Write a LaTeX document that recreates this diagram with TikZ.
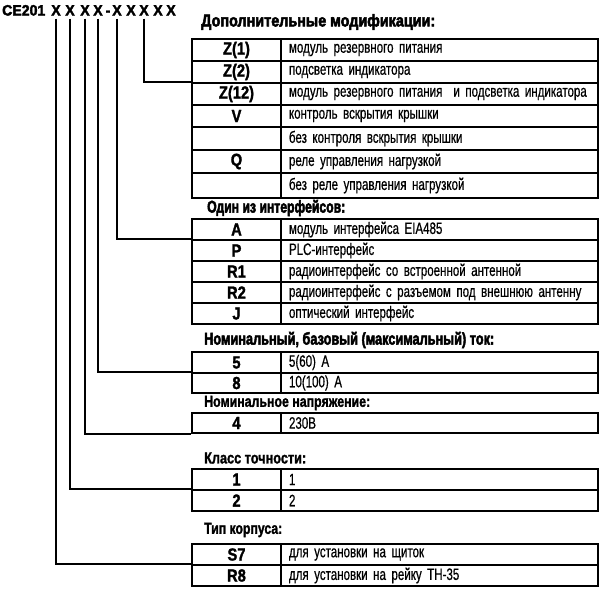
\documentclass[tikz,border=0pt]{standalone}
\usepackage{graphicx}
\usepackage{fontspec}
\setmainfont{Liberation Sans}
\newfontfamily\descfont{Liberation Sans}[FakeStretch=0.70,FakeBold=0.6]
\newfontfamily\codefont{Liberation Sans}[FakeStretch=0.84,FakeBold=1.5]
\newfontfamily\headfont{Liberation Sans}[FakeStretch=0.85,FakeBold=3]
\newfontfamily\subhfont{Liberation Sans}[FakeStretch=0.85,FakeBold=1.5]
\newfontfamily\titlefont{Liberation Sans}[FakeStretch=0.94,FakeBold=2.5]
\newcommand{\hdr}[2]{\resizebox{#1}{\height}{#2}}
\tikzset{
  lw/.style={line width=2pt},
  codecell/.style={draw, lw, rectangle, minimum width=89pt, minimum height=#1,
    inner sep=0pt, anchor=north west, font=\codefont\bfseries\fontsize{17.5}{17.5}\selectfont},
  desccell/.style={draw, lw, rectangle, minimum width=317pt, minimum height=#1,
    inner xsep=8pt, inner ysep=0pt, text width=301pt, align=left, anchor=north west,
    font=\descfont\fontsize{16.5}{16.5}\selectfont},
  headtxt/.style={anchor=west, inner sep=0pt, font=\headfont\bfseries\fontsize{17}{17}\selectfont},
  subhtxt/.style={anchor=west, inner sep=0pt, font=\subhfont\bfseries\fontsize{16}{16}\selectfont},
  xmark/.style={inner sep=0pt, anchor=base, font=\titlefont\bfseries\fontsize{15}{15}\selectfont},
  conn/.style={draw, lw}
}
\begin{document}
\begin{tikzpicture}[x=1pt,y=-1pt]
\useasboundingbox (0,0) rectangle (605,590);
% title
\node[xmark, anchor=base west] (ce) at (2,15.5) {CE201};
\node[xmark] (x1) at (56,15.5) {X};
\node[xmark] (x2) at (70,15.5) {X};
\node[xmark] (x3) at (85,15.5) {X};
\node[xmark] (x4) at (98,15.5) {X};
\node[xmark] (dash) at (108,15.5) {-};
\node[xmark] (x5) at (117,15.5) {X};
\node[xmark] (x6) at (131,15.5) {X};
\node[xmark] (x7) at (144,15.5) {X};
\node[xmark] (x8) at (158,15.5) {X};
\node[xmark] (x9) at (171,15.5) {X};

% table 1
\node[headtxt] (h1) at (201,22) {\hdr{234pt}{Дополнительные модификации:}};
\node[codecell=22pt] (t1c1) at (191,38) {Z(1)};
\node[desccell=22pt] (t1d1) at (280,38) {модуль резервного питания};
\node[codecell=22pt] (t1c2) at (191,60) {Z(2)};
\node[desccell=22pt] (t1d2) at (280,60) {подсветка индикатора};
\node[codecell=22pt] (t1c3) at (191,82) {Z(12)};
\node[desccell=22pt] (t1d3) at (280,82) {\mbox{модуль резервного питания\ \ и подсветка индикатора}};
\node[codecell=22pt] (t1c4) at (191,104) {V};
\node[desccell=22pt] (t1d4) at (280,104) {контроль вскрытия крышки};
\node[codecell=23pt] (t1c5) at (191,126) {};
\node[desccell=23pt] (t1d5) at (280,126) {без контроля вскрытия крышки};
\node[codecell=23pt] (t1c6) at (191,149) {Q};
\node[desccell=23pt] (t1d6) at (280,149) {реле управления нагрузкой};
\node[codecell=25pt] (t1c7) at (191,172) {};
\node[desccell=25pt] (t1d7) at (280,172) {без реле управления нагрузкой};

% table 2
\node[headtxt] (h2) at (207,208) {\hdr{138pt}{Один из интерфейсов:}};
\node[codecell=21pt] (t2c1) at (191,218) {A};
\node[desccell=21pt] (t2d1) at (280,218) {модуль интерфейса EIA485};
\node[codecell=21pt] (t2c2) at (191,239) {P};
\node[desccell=21pt] (t2d2) at (280,239) {PLC-интерфейс};
\node[codecell=21pt] (t2c3) at (191,260) {R1};
\node[desccell=21pt] (t2d3) at (280,260) {радиоинтерфейс со встроенной антенной};
\node[codecell=21pt] (t2c4) at (191,281) {R2};
\node[desccell=21pt] (t2d4) at (280,281) {\mbox{радиоинтерфейс с разъемом под внешнюю антенну}};
\node[codecell=21pt] (t2c5) at (191,302) {J};
\node[desccell=21pt] (t2d5) at (280,302) {оптический интерфейс};

% table 3
\node[headtxt] (h3) at (204,340) {\hdr{290pt}{Номинальный, базовый (максимальный) ток:}};
\node[codecell=21pt] (t3c1) at (191,351) {5};
\node[desccell=21pt] (t3d1) at (280,351) {5(60) A};
\node[codecell=20pt] (t3c2) at (191,372) {8};
\node[desccell=20pt] (t3d2) at (280,372) {10(100) A};

% table 4
\node[subhtxt] (h4) at (204,403) {\hdr{166pt}{Номинальное напряжение:}};
\node[codecell=20pt] (t4c1) at (191,412) {4};
\node[desccell=20pt] (t4d1) at (280,412) {230В};

% table 5
\node[subhtxt] (h5) at (204,458) {\hdr{102pt}{Класс точности:}};
\node[codecell=21pt] (t5c1) at (191,468) {1};
\node[desccell=21pt] (t5d1) at (280,468) {1};
\node[codecell=21pt] (t5c2) at (191,489) {2};
\node[desccell=21pt] (t5d2) at (280,489) {2};

% table 6
\node[subhtxt] (h6) at (204,530) {\hdr{78pt}{Тип корпуса:}};
\node[codecell=21pt] (t6c1) at (191,543) {S7};
\node[desccell=21pt] (t6d1) at (280,543) {для установки на щиток};
\node[codecell=21pt] (t6c2) at (191,564) {R8};
\node[desccell=21pt] (t6d2) at (280,564) {для установки на рейку ТН-35};

% connectors
\draw[conn] ([yshift=-3pt]x7.south) |- (t1c3.north west);
\draw[conn] ([yshift=-3pt]x5.south) |- (t2c2.north west);
\draw[conn] ([yshift=-3pt]x4.south) |- (t3c2.north west);
\draw[conn] ([yshift=-3pt]x3.south) |- (t4c1.south west);
\draw[conn] ([yshift=-3pt]x2.south) |- (t5c2.north west);
\draw[conn] ([yshift=-3pt]x1.south) |- (t6c2.north west);
\end{tikzpicture}
\end{document}
